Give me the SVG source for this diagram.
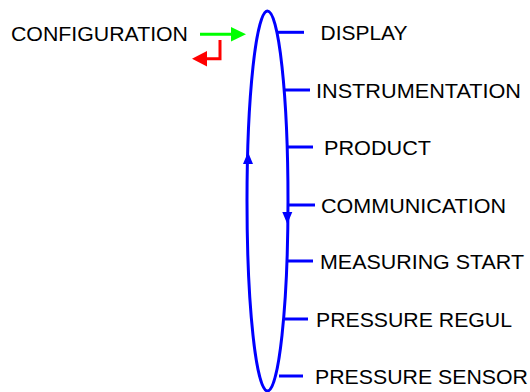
<svg xmlns="http://www.w3.org/2000/svg" width="530" height="392" viewBox="0 0 530 392">
  <style>
    .lbl { font-family: "Liberation Sans", Arial, sans-serif; font-size: 20px; fill: #000; }
    .loop { fill: none; stroke: #0000ff; stroke-width: 3; }
    .tick { stroke: #0000ff; stroke-width: 3; }
    .head { fill: #0000ff; }
  </style>
  <rect width="530" height="392" fill="#fff"/>

  <g id="configuration">
    <text class="lbl" x="11" y="41" textLength="177" lengthAdjust="spacingAndGlyphs">CONFIGURATION</text>
  </g>

  <g id="connectors">
    <!-- enter arrow (green) -->
    <line x1="200" y1="34.3" x2="233" y2="34.3" stroke="#00ff00" stroke-width="3"/>
    <polygon points="246,34.3 231,27 231,41.6" fill="#00ff00"/>
    <!-- back arrow (red) -->
    <polyline points="220,40 220,58.7 205,58.7" fill="none" stroke="#ff0000" stroke-width="3"/>
    <polygon points="192,58.7 207,51 207,66.4" fill="#ff0000"/>
    <!-- menu loop -->
    <ellipse class="loop" cx="267.5" cy="201" rx="20.5" ry="190"/>
    <polygon class="head" points="248,152 243,164 253,164"/>
    <polygon class="head" points="287.3,224 282.3,212 292.3,212"/>
    <!-- item ticks -->
    <line class="tick" x1="277" y1="32.3" x2="304" y2="32.3"/>
    <line class="tick" x1="284" y1="90" x2="310" y2="90"/>
    <line class="tick" x1="287" y1="147" x2="313" y2="147"/>
    <line class="tick" x1="288" y1="205" x2="315" y2="205"/>
    <line class="tick" x1="287" y1="261" x2="313" y2="261"/>
    <line class="tick" x1="285" y1="319" x2="308" y2="319"/>
    <line class="tick" x1="279" y1="376" x2="303" y2="376"/>
  </g>

  <g id="display"><text class="lbl" x="320.5" y="40" textLength="87" lengthAdjust="spacingAndGlyphs">DISPLAY</text></g>
  <g id="instrumentation"><text class="lbl" x="316" y="98" textLength="205" lengthAdjust="spacingAndGlyphs">INSTRUMENTATION</text></g>
  <g id="product"><text class="lbl" x="324" y="155" textLength="107" lengthAdjust="spacingAndGlyphs">PRODUCT</text></g>
  <g id="communication"><text class="lbl" x="321" y="213" textLength="185" lengthAdjust="spacingAndGlyphs">COMMUNICATION</text></g>
  <g id="measuring-start"><text class="lbl" x="320" y="269" textLength="204" lengthAdjust="spacingAndGlyphs">MEASURING START</text></g>
  <g id="pressure-regul"><text class="lbl" x="316" y="327" textLength="196" lengthAdjust="spacingAndGlyphs">PRESSURE REGUL</text></g>
  <g id="pressure-sensor"><text class="lbl" x="315" y="384" textLength="213" lengthAdjust="spacingAndGlyphs">PRESSURE SENSOR</text></g>
</svg>
